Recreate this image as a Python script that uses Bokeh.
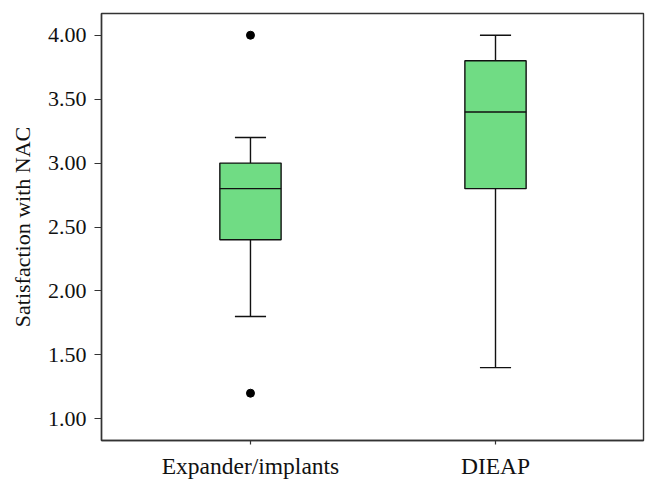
from bokeh.plotting import figure
from bokeh.models import ColumnDataSource, FixedTicker, Range1d
from bokeh.embed import file_html
from bokeh.resources import INLINE

categories = ["Expander/implants", "DIEAP"]
lower_whisker = [1.8, 1.4]
q1 = [2.4, 2.8]
median = [2.8, 3.4]
q3 = [3.0, 3.8]
upper_whisker = [3.2, 4.0]
outlier_cat = ["Expander/implants", "Expander/implants"]
outlier_val = [4.0, 1.2]
y_ticks = [1.0, 1.5, 2.0, 2.5, 3.0, 3.5, 4.0]

xpos = [i + 1 for i in range(len(categories))]
box_w = 0.25
cap_w = 0.127

src = ColumnDataSource(dict(
    x=xpos, lw=lower_whisker, q1=q1, med=median, q3=q3, uw=upper_whisker,
    bl=[x - box_w / 2 for x in xpos], br=[x + box_w / 2 for x in xpos],
    cl=[x - cap_w / 2 for x in xpos], cr=[x + cap_w / 2 for x in xpos],
))
osrc = ColumnDataSource(dict(
    x=[categories.index(c) + 1 for c in outlier_cat], y=outlier_val))

p = figure(width=650, height=481, output_backend="svg", toolbar_location=None,
           x_range=Range1d(0.392, 2.604), y_range=Range1d(0.83, 4.17),
           min_border_left=101, min_border_top=13, min_border_right=7, min_border_bottom=41)

line_col = "#111111"
# whiskers
p.segment(x0="x", y0="q3", x1="x", y1="uw", source=src, line_color=line_col, line_width=1.4)
p.segment(x0="x", y0="q1", x1="x", y1="lw", source=src, line_color=line_col, line_width=1.4)
p.segment(x0="cl", y0="uw", x1="cr", y1="uw", source=src, line_color=line_col, line_width=1.4)
p.segment(x0="cl", y0="lw", x1="cr", y1="lw", source=src, line_color=line_col, line_width=1.4)
# boxes
p.vbar(x="x", width=box_w, bottom="q1", top="q3", source=src,
       fill_color="#70DC84", line_color=line_col, line_width=1.4)
p.segment(x0="bl", y0="med", x1="br", y1="med", source=src, line_color=line_col, line_width=1.4)
# outliers
p.scatter(x="x", y="y", source=osrc, size=8, fill_color="black", line_color="black")

font = "Liberation Serif"
p.xgrid.visible = False
p.ygrid.visible = False
p.outline_line_color = "#333333"
p.outline_line_width = 1.4
p.outline_line_alpha = 1.0

p.xaxis.ticker = FixedTicker(ticks=xpos)
p.xaxis.major_label_overrides = {x: c for x, c in zip(xpos, categories)}
p.yaxis.ticker = FixedTicker(ticks=y_ticks)
p.yaxis.major_label_overrides = {t: f"{t:.2f}" for t in y_ticks}

for ax in (p.xaxis[0], p.yaxis[0]):
    ax.axis_line_color = "#333333"
    ax.axis_line_width = 1.4
    ax.major_tick_line_color = "#333333"
    ax.major_tick_line_width = 1.2
    ax.major_tick_in = 0
    ax.minor_tick_line_color = None
    ax.major_label_text_font = font
    ax.major_label_text_color = "#111111"
    ax.axis_label_text_font = font
    ax.axis_label_text_font_style = "normal"
    ax.axis_label_text_color = "#111111"

p.xaxis.major_tick_out = 4
p.xaxis.major_label_standoff = 8
p.xaxis.major_label_text_font_size = "23.5px"
p.yaxis.major_tick_out = 7
p.yaxis.major_label_standoff = 8
p.yaxis.major_label_text_font_size = "22px"
p.yaxis.axis_label = "Satisfaction with NAC"
p.yaxis.axis_label_text_font_size = "22px"
p.yaxis.axis_label_standoff = 10

open("out.html", "w").write(file_html(p, INLINE))
